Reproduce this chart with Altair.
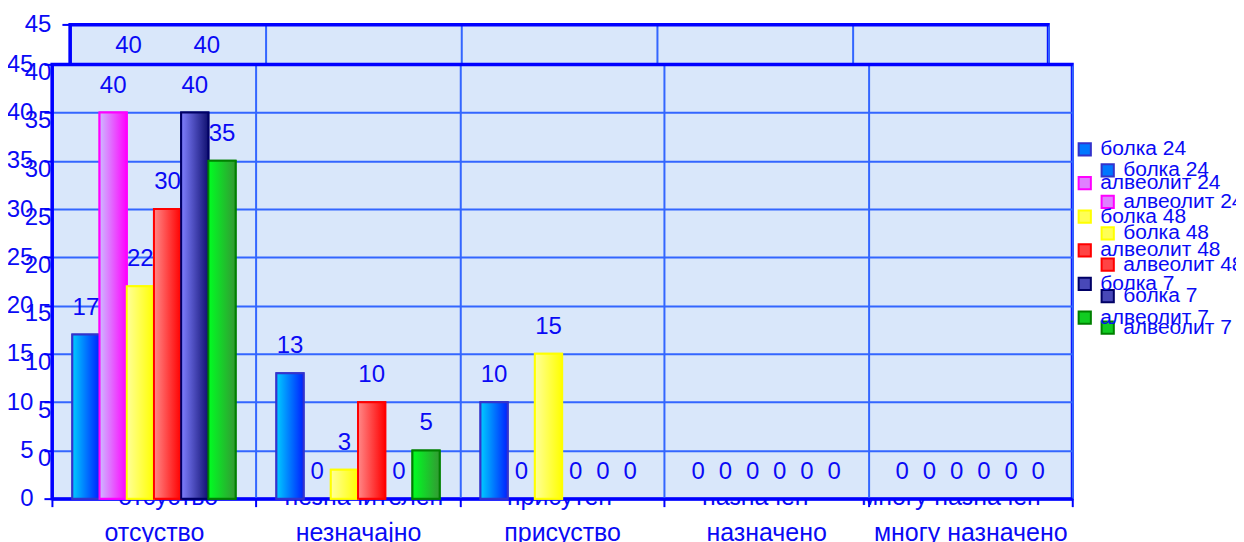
import altair as alt
import pandas as pd

# ---- data ----
categories = ["отсуство", "незначајно", "присуство", "назначено", "многу назначено"]
ghost_categories = ["отсуство", "незначителен", "присутен", "назначен", "многу назначен"]
series = ["болка 24", "алвеолит 24", "болка 48", "алвеолит 48", "болка 7", "алвеолит 7"]
bolka_24 = [17, 13, 10, 0, 0]
alveolit_24 = [40, 0, 0, 0, 0]
bolka_48 = [22, 3, 15, 0, 0]
alveolit_48 = [30, 10, 0, 0, 0]
bolka_7 = [40, 0, 0, 0, 0]
alveolit_7 = [35, 5, 0, 0, 0]
y_ticks = [0, 5, 10, 15, 20, 25, 30, 35, 40, 45]

# ---- styling ----
FONT = "Liberation Sans"
TEXT = "#0a0af5"
GRID = "#3366ff"
AXIS = "#0000ff"
PLOT_BG = "#d9e7fa"
NUM_SIZE = 24
TXT_SIZE = 25
LEG_SIZE = 21
light = ["#00ccff", "#ccbbff", "#ffff99", "#ff8888", "#8080ff", "#00ff22"]
dark = ["#0022ff", "#ff00ff", "#ffff00", "#ff0000", "#101070", "#339933"]
borders = ["#3333cc", "#ff00ff", "#ffff00", "#ff0000", "#000066", "#008000"]
legend_fill = ["#0077ff", "#e080ff", "#ffff55", "#ff4444", "#4848b8", "#11cc22"]

all_values = [bolka_24, alveolit_24, bolka_48, alveolit_48, bolka_7, alveolit_7]


def gradient(c0, c1):
    return alt.LinearGradient(
        gradient="linear",
        stops=[alt.GradientStop(color=c0, offset=0), alt.GradientStop(color=c1, offset=1)],
        x1=0, x2=1, y1=0, y2=0,
    )


def panel(cats, width, height, leg_x, leg_y, leg_row, xlab_pad, ylab_pad):
    rows = []
    for s, vals in zip(series, all_values):
        for c, v in zip(cats, vals):
            rows.append({"category": c, "series": s, "value": v})
    df = pd.DataFrame(rows)

    x = alt.X(
        "category:N", sort=cats,
        scale=alt.Scale(domain=cats, paddingInner=0, paddingOuter=0),
        axis=alt.Axis(title=None, labelAngle=0, tickBand="extent", grid=True,
                      gridColor=GRID, gridWidth=2, domainColor=AXIS, domainWidth=3,
                      tickColor=AXIS, tickWidth=2, tickSize=8, labelPadding=xlab_pad,
                      labelFont=FONT, labelFontSize=TXT_SIZE, labelColor=TEXT,
                      labelLimit=0),
    )
    xo = alt.XOffset("series:N", sort=series,
                     scale=alt.Scale(domain=series, paddingInner=0, paddingOuter=0.75))
    y = alt.Y(
        "value:Q",
        scale=alt.Scale(domain=[0, 45], nice=False, zero=True),
        axis=alt.Axis(title=None, values=y_ticks, grid=True,
                      gridColor=alt.condition("datum.value >= 45", alt.value(AXIS), alt.value(GRID)),
                      gridWidth=alt.condition("datum.value >= 45", alt.value(3), alt.value(2)),
                      domainColor=AXIS, domainWidth=3, tickColor=AXIS, tickWidth=2,
                      tickSize=8, labelPadding=ylab_pad, labelFont=FONT,
                      labelFontSize=NUM_SIZE, labelColor=TEXT),
    )
    base = alt.Chart(df).encode(x=x, xOffset=xo, y=y)
    nonzero = base.transform_filter("datum.value > 0")

    leg = alt.Legend(title=None, orient="none", legendX=leg_x, legendY=leg_y,
                     symbolType="square", symbolSize=150, symbolStrokeWidth=2,
                     labelFont=FONT, labelFontSize=LEG_SIZE, labelColor=TEXT,
                     labelOffset=5, rowPadding=leg_row, padding=0, labelLimit=0)
    legend_layer = nonzero.mark_bar(strokeWidth=2).encode(
        fill=alt.Fill("series:N", sort=series,
                      scale=alt.Scale(domain=series, range=legend_fill), legend=leg),
        stroke=alt.Stroke("series:N", sort=series,
                          scale=alt.Scale(domain=series, range=borders), legend=leg),
    )
    bar_layers = [
        nonzero.transform_filter(alt.datum.series == s).mark_bar(
            fill=gradient(a, b), stroke=br, strokeWidth=2)
        for s, a, b, br in zip(series, light, dark, borders)
    ]
    labels = base.mark_text(dy=-27, font=FONT, fontSize=NUM_SIZE, color=TEXT).encode(
        text="value:Q")
    return alt.layer(legend_layer, *bar_layers, labels).properties(
        width=width, height=height)


# back ("ghost") copy of the chart, mostly hidden behind the front chart
ghost = panel(ghost_categories, 980, 435, 1047, 135.7, 9.5, 18, 11)
front = panel(categories, 1022, 435, 1024, 74.7, 11.7, 14, 11)

spacer = alt.Chart(pd.DataFrame({"v": [0]})).mark_point(opacity=0).encode(
    x=alt.X("v:Q", axis=None), y=alt.Y("v:Q", axis=None)
).properties(width=1, height=1,
             view=alt.ViewBackground(fill="transparent", stroke="transparent"))

ghost_row = alt.hconcat(spacer, ghost, spacing=17, bounds="flush").resolve_scale(
    x="independent", y="independent")

chart = (
    alt.vconcat(ghost_row, front, spacing=40, bounds="flush")
    .resolve_scale(x="independent", y="independent", xOffset="independent",
                   fill="independent", stroke="independent")
    .resolve_legend(fill="independent", stroke="independent")
    .properties(padding={"left": -4, "top": 2, "right": -8, "bottom": -4},
                background="white")
    .configure_view(fill=PLOT_BG, stroke=AXIS, strokeWidth=3)
)

chart.save("out.html", embed_options={"renderer": "svg", "actions": False})
